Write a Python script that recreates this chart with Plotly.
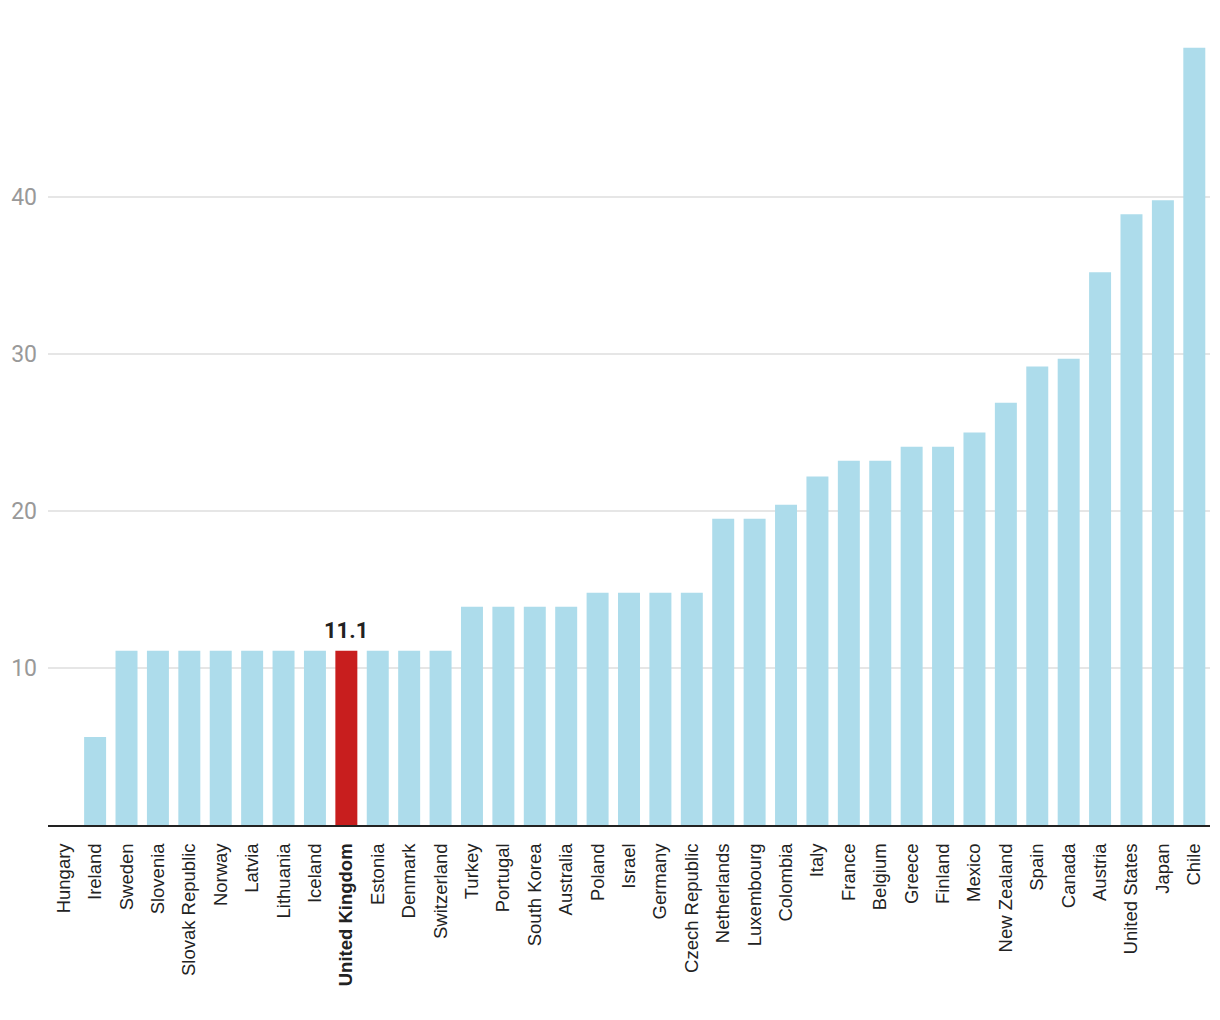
import plotly.graph_objects as go

countries = ["Hungary", "Ireland", "Sweden", "Slovenia", "Slovak Republic", "Norway", "Latvia",
             "Lithuania", "Iceland", "United Kingdom", "Estonia", "Denmark", "Switzerland",
             "Turkey", "Portugal", "South Korea", "Australia", "Poland", "Israel", "Germany",
             "Czech Republic", "Netherlands", "Luxembourg", "Colombia", "Italy", "France",
             "Belgium", "Greece", "Finland", "Mexico", "New Zealand", "Spain", "Canada",
             "Austria", "United States", "Japan", "Chile"]
values = [0, 5.6, 11.1, 11.1, 11.1, 11.1, 11.1,
          11.1, 11.1, 11.1, 11.1, 11.1, 11.1,
          13.9, 13.9, 13.9, 13.9, 14.8, 14.8, 14.8,
          14.8, 19.5, 19.5, 20.4, 22.2, 23.2,
          23.2, 24.1, 24.1, 25.0, 26.9, 29.2, 29.7,
          35.2, 38.9, 39.8, 49.5]
highlight = "United Kingdom"
y_ticks = [10, 20, 30, 40]

colors = ["#C81E1E" if c == highlight else "#ADDCEB" for c in countries]
tick_text = [f"<b>{c}</b>" if c == highlight else c for c in countries]

fig = go.Figure(go.Bar(x=countries, y=values, marker=dict(color=colors, line=dict(width=0)),
                       hoverinfo="x+y"))

hi_val = values[countries.index(highlight)]
fig.add_annotation(x=highlight, y=hi_val, text=f"<b>{hi_val}</b>", showarrow=False,
                   yanchor="bottom", yshift=6,
                   font=dict(family="Roboto", size=22, color="#222222"))

fig.update_layout(
    width=1212, height=1012,
    margin=dict(l=40, r=10, t=32, b=195, autoexpand=False),
    paper_bgcolor="white", plot_bgcolor="white",
    bargap=0.3,
    showlegend=False,
    font=dict(family="Roboto", color="#222222"),
)
fig.update_xaxes(
    tickmode="array", tickvals=countries, ticktext=tick_text,
    tickangle=-90, tickfont=dict(family="Liberation Sans, Arial", size=18.5, color="#222222"),
    showline=True, linecolor="#222222", linewidth=2, ticks="", showgrid=False,
    ticklabelstandoff=9, automargin=False,
)
fig.update_yaxes(
    range=[0, 50], tickmode="array", tickvals=y_ticks,
    tickfont=dict(family="Roboto", size=23, color="#999999"),
    showgrid=True, gridcolor="#e6e6e6", gridwidth=2, zeroline=False,
    ticks="", ticklabelstandoff=10, automargin=False,
)

fig.write_html("out.html")
